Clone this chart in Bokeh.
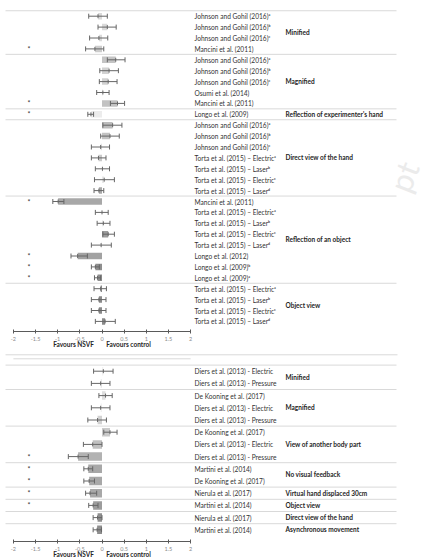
from bokeh.plotting import figure
from bokeh.layouts import column
from bokeh.models import (ColumnDataSource, Range1d, LinearAxis, FixedTicker,
                          Whisker, TeeHead)
from bokeh.core.properties import value
from bokeh.embed import file_html
from bokeh.resources import INLINE

# ---------------- data: upper panel ----------------
TOP_STUDIES = [
    "Johnson and Gohil (2016)ᵃ", "Johnson and Gohil (2016)ᵇ", "Johnson and Gohil (2016)ᶜ",
    "Mancini et al. (2011)",
    "Johnson and Gohil (2016)ᵃ", "Johnson and Gohil (2016)ᵇ", "Johnson and Gohil (2016)ᶜ",
    "Osumi et al. (2014)", "Mancini et al. (2011)",
    "Longo et al. (2009)",
    "Johnson and Gohil (2016)ᵃ", "Johnson and Gohil (2016)ᵇ", "Johnson and Gohil (2016)ᶜ",
    "Torta et al. (2015) – Electricᵃ", "Torta et al. (2015) – Laserᵇ",
    "Torta et al. (2015) – Electricᶜ", "Torta et al. (2015) – Laserᵈ",
    "Mancini et al. (2011)",
    "Torta et al. (2015) – Electricᵃ", "Torta et al. (2015) – Laserᵇ",
    "Torta et al. (2015) – Electricᶜ", "Torta et al. (2015) – Laserᵈ",
    "Longo et al. (2012)", "Longo et al. (2009)ᵇ", "Longo et al. (2009)ᵃ",
    "Torta et al. (2015) – Electricᵃ", "Torta et al. (2015) – Laserᵇ",
    "Torta et al. (2015) – Electricᶜ", "Torta et al. (2015) – Laserᵈ",
]
TOP_MEAN = [-0.09, 0.12, -0.07, -0.16,
            0.31, 0.16, 0.14, 0.02, 0.35,
            -0.25,
            0.24, 0.18, -0.03, -0.08, 0.01, 0.05, -0.07,
            -0.99, 0.00, 0.03, 0.14, -0.02, -0.55, -0.15, -0.10,
            -0.03, -0.07, -0.07, 0.07]
TOP_LO = [-0.30, -0.09, -0.28, -0.37,
          0.12, -0.05, -0.06, -0.12, 0.19,
          -0.32,
          0.02, -0.03, -0.24, -0.24, -0.15, -0.17, -0.18,
          -1.11, -0.15, -0.11, 0.02, -0.24, -0.70, -0.24, -0.17,
          -0.18, -0.24, -0.24, -0.15]
TOP_HI = [0.12, 0.32, 0.13, 0.04,
          0.52, 0.37, 0.34, 0.16, 0.51,
          -0.19,
          0.45, 0.39, 0.17, 0.09, 0.17, 0.28, 0.04,
          -0.86, 0.14, 0.18, 0.28, 0.21, -0.33, -0.06, -0.03,
          0.10, 0.09, 0.09, 0.30]
TOP_SIG = [False, False, False, True,
           False, False, False, False, True,
           True,
           False, False, False, False, False, False, False,
           True, False, False, False, False, True, True, True,
           False, False, False, False]
TOP_GROUPS = ["Minified", "Magnified", "Reflection of experimenter's hand",
              "Direct view of the hand", "Reflection of an object", "Object view"]
TOP_GROUP_SIZES = [4, 5, 1, 7, 8, 4]

# ---------------- data: lower panel ----------------
BOT_STUDIES = [
    "Diers et al. (2013) - Electric", "Diers et al. (2013) - Pressure",
    "De Kooning et al. (2017)", "Diers et al. (2013) - Electric", "Diers et al. (2013) - Pressure",
    "De Kooning et al. (2017)", "Diers et al. (2013) - Electric", "Diers et al. (2013) - Pressure",
    "Martini et al. (2014)", "De Kooning et al. (2017)",
    "Nierula et al. (2017)",
    "Martini et al. (2014)",
    "Nierula et al. (2017)",
    "Martini et al. (2014)",
]
BOT_MEAN = [0.03, -0.03, 0.08, -0.03, -0.10, 0.18, -0.21, -0.54,
            -0.31, -0.29, -0.27, -0.20, -0.10, -0.11]
BOT_LO = [-0.19, -0.24, -0.07, -0.24, -0.32, 0.04, -0.42, -0.76,
          -0.41, -0.41, -0.37, -0.30, -0.20, -0.20]
BOT_HI = [0.25, 0.18, 0.23, 0.18, 0.10, 0.34, 0.00, -0.31,
          -0.21, -0.17, -0.12, -0.09, 0.00, -0.01]
BOT_SIG = [False, False, False, False, False, False, False, True,
           True, True, True, True, False, False]
BOT_GROUPS = ["Minified", "Magnified", "View of another body part", "No visual feedback",
              "Virtual hand displaced 30cm", "Object view", "Direct view of the hand",
              "Asynchronous movement"]
BOT_GROUP_SIZES = [2, 3, 3, 2, 1, 1, 1, 1]

# axis ticks and captions
TICKS = [-2, -1.5, -1, -0.5, 0, 0.5, 1, 1.5, 2]
TICK_LABELS = ["-2", "-1.5", "-1", "-0.5", "0", "0.5", "1", "1.5", "2"]
FAVOURS = ["Favours NSVF", "Favours control"]
FAVOURS_X = [-0.64, 0.60]

# ---------------- styling ----------------
TOP_SHADES = ["#dadada", "#dadada", "#dadada", "#cccccc",
              "#c4c4c4", "#d2d2d2", "#d2d2d2", "#eeeeee", "#c2c2c2",
              "#ececec",
              "#bcbcbc", "#c2c2c2", "#e2e2e2", "#cacaca", "#eeeeee", "#e8e8e8", "#a8a8a8",
              "#a8a8a8", "#f0f0f0", "#f0f0f0", "#9c9c9c", "#f0f0f0", "#a2a2a2", "#8e8e8e", "#8e8e8e",
              "#8a8a8a", "#8a8a8a", "#8a8a8a", "#8a8a8a"]
BOT_SHADES = ["#f2f2f2", "#e8e8e8", "#dedede", "#f2f2f2", "#d2d2d2", "#cacaca", "#c0c0c0",
              "#b2b2b2", "#a8a8a8", "#a8a8a8", "#a8a8a8", "#9c9c9c", "#8e8e8e", "#8e8e8e"]

W = 428
ZERO_PX = 101.5         # horizontal pixel of x = 0
UNIT_PX = 44.3          # pixels per x unit
FONT = value("Lato")
TEXT_COLOR = "#333333"
RULE_COLOR = "#d9d9d9"
ERR_COLOR = "#666666"


def px2x(px):
    return (px - ZERO_PX) / UNIT_PX


STUDY_X = px2x(194)
GROUP_X = px2x(285)
STAR_X = -1.65
RULE_X0, RULE_X1 = px2x(5), px2x(396)


def make_panel(studies, mean, lo, hi, sig, groups, sizes, shades,
               height, first_px, row_px, axis_px, caption_px, bar_px, top_rules):
    def py(px):
        return (px - first_px) / row_px

    p = figure(width=W, height=height, output_backend="svg", toolbar_location=None,
               x_range=Range1d(px2x(0), px2x(W)), y_range=Range1d(py(height), py(0)),
               x_axis_location=None, y_axis_location=None, min_border=0)
    p.grid.visible = False
    p.outline_line_color = None
    p.background_fill_color = "white"
    p.border_fill_color = "white"

    n = len(studies)
    rows = list(range(n))
    half = 2.0 / row_px
    src = ColumnDataSource(dict(y=rows, mean=mean, lo=lo, hi=hi, shade=shades,
                                study=studies,
                                y0=[r - half for r in rows], y1=[r + half for r in rows],
                                star=["*" if s else "" for s in sig]))

    # bars from zero to the effect size
    p.hbar(y="y", left=0, right="mean", height=bar_px / row_px, source=src,
           fill_color="shade", line_color=None)

    # confidence intervals
    wk = Whisker(base="y", lower="lo", upper="hi", dimension="width", source=src,
                 line_color=ERR_COLOR, line_width=1, level="annotation",
                 lower_head=TeeHead(size=5, line_color=ERR_COLOR, line_width=1),
                 upper_head=TeeHead(size=5, line_color=ERR_COLOR, line_width=1))
    p.add_layout(wk)
    p.segment(x0="mean", x1="mean", y0="y0", y1="y1",
              source=src, line_color=ERR_COLOR, line_width=1)

    # significance marks
    p.text(x=STAR_X, y="y", text="star", source=src, text_font=FONT,
           text_font_size="7px", text_color="#333333", text_align="center",
           text_baseline="middle")

    # study labels
    p.text(x=STUDY_X, y="y", text="study", source=src, text_font=FONT,
           text_font_size="6.6px", text_color=TEXT_COLOR, text_align="left",
           text_baseline="middle")

    # group rules and group names
    bounds = [0]
    for s in sizes:
        bounds.append(bounds[-1] + s)
    rule_y = [b - 0.5 for b in bounds[:-1]]
    p.segment(x0=RULE_X0, x1=RULE_X1, y0=rule_y, y1=rule_y,
              line_color=RULE_COLOR, line_width=1)
    for (ypx, x0, x1) in top_rules:
        p.segment(x0=[x0], x1=[x1], y0=[py(ypx)], y1=[py(ypx)],
                  line_color=RULE_COLOR, line_width=1)
    centers = [(bounds[i] + bounds[i + 1] - 1) / 2 for i in range(len(sizes))]
    p.text(x=GROUP_X, y=centers, text=groups, text_font=FONT, text_font_size="6.5px",
           text_font_style="bold", text_color="#262626", text_align="left",
           text_baseline="middle")

    # x axis drawn inside the frame, spanning -2..2
    ax = LinearAxis(fixed_location=py(axis_px), bounds=(-2, 2),
                    ticker=FixedTicker(ticks=TICKS, minor_ticks=[]),
                    major_label_overrides={t: l for t, l in zip(TICKS, TICK_LABELS)})
    ax.axis_line_color = "#5a5a5a"
    ax.major_tick_line_color = "#5a5a5a"
    ax.major_tick_in = 2
    ax.major_tick_out = 2
    ax.major_label_standoff = 3
    ax.major_label_text_font = "Lato"
    ax.major_label_text_font_size = "5.5px"
    ax.major_label_text_color = "#8a8a8a"
    p.add_layout(ax, "below")

    p.text(x=FAVOURS_X, y=[py(caption_px)] * 2, text=FAVOURS, text_font=FONT,
           text_font_size="6.5px", text_font_style="bold", text_color="#262626",
           text_align="center", text_baseline="middle")
    return p, py


top, top_py = make_panel(TOP_STUDIES, TOP_MEAN, TOP_LO, TOP_HI, TOP_SIG,
                         TOP_GROUPS, TOP_GROUP_SIZES, TOP_SHADES,
                         height=352, first_px=15.7, row_px=10.9, axis_px=331,
                         caption_px=344, bar_px=6.5, top_rules=[])

# faint watermark fragment at the right edge
top.text(x=[px2x(403)], y=[top_py(176)], text=["pt"], angle=1.2, text_font=FONT,
         text_font_size="32px", text_color="#ebebeb", text_align="center",
         text_baseline="middle", level="underlay")

bottom, _ = make_panel(BOT_STUDIES, BOT_MEAN, BOT_LO, BOT_HI, BOT_SIG,
                       BOT_GROUPS, BOT_GROUP_SIZES, BOT_SHADES,
                       height=207, first_px=18.7, row_px=12.2, axis_px=189,
                       caption_px=202, bar_px=8.5,
                       top_rules=[(2.3, px2x(5), px2x(397)), (6.3, -2, 2)])

layout = column(top, bottom, spacing=0)
open("out.html", "w").write(file_html(layout, INLINE))
